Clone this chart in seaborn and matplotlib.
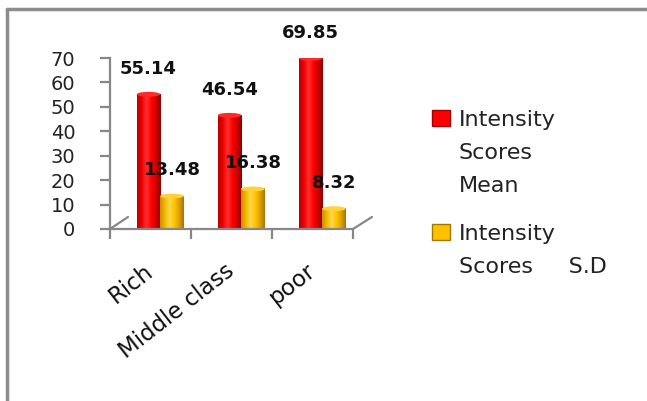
import matplotlib
matplotlib.use("Agg")
import matplotlib.pyplot as plt
import matplotlib.transforms as mtransforms
import seaborn as sns
import pandas as pd
import numpy as np
from matplotlib.patches import Patch, Ellipse
from matplotlib.lines import Line2D
from matplotlib.colors import LinearSegmentedColormap

# ---- data ----
categories = ["Rich", "Middle class", "poor"]
series = ["Intensity Scores Mean", "Intensity Scores S.D"]
mean_values = [55.14, 46.54, 69.85]
sd_values = [13.48, 16.38, 8.32]
y_ticks = [0, 10, 20, 30, 40, 50, 60, 70]
legend_labels = ["Intensity\nScores\nMean", "Intensity\nScores     S.D"]

df = pd.DataFrame({
    "category": categories * 2,
    "series": [series[0]] * len(categories) + [series[1]] * len(categories),
    "value": mean_values + sd_values,
})

sns.set_theme(style="white")
plt.rcParams['font.family'] = ['DejaVu Sans']

AXIS_GRAY = "#878787"
RED = "#FF0000"
GOLD = "#FFC000"
fig = plt.figure(figsize=(6.47, 4.01), dpi=100)
ax = fig.add_axes([110 / 647, 172 / 401, 243 / 647, 171 / 401])

palette = {series[0]: RED, series[1]: GOLD}
sns.barplot(data=df, x="category", y="value", hue="series", order=categories,
            hue_order=series, palette=palette, width=0.58, saturation=1,
            ax=ax, legend=False, linewidth=0)

# 3D-like depth offset of the bars
for p in ax.patches:
    p.set_x(p.get_x() + 0.12)

ax.set_xlim(-0.5, len(categories) - 0.5)
ax.set_ylim(0, 70)

# cylinder shading derived from each bar's geometry
cmaps = {
    RED: LinearSegmentedColormap.from_list(
        "r", ["#B80000", "#F00000", "#FF3030", "#FF0000", "#D00000", "#8C0000"]),
    GOLD: LinearSegmentedColormap.from_list(
        "g", ["#C89000", "#F5B800", "#FFD84A", "#FFC400", "#E0A000", "#A87400"]),
}
tops = {RED: "#FF2A2A", GOLD: "#FFD23A"}
grad = np.linspace(0, 1, 64).reshape(1, -1)
cap_h = 2.0
for container, col in zip(ax.containers, [RED, GOLD]):
    for p in container:
        x0, y0, w, h = p.get_x(), p.get_y(), p.get_width(), p.get_height()
        ax.imshow(grad, extent=[x0, x0 + w, y0, y0 + h], aspect="auto",
                  cmap=cmaps[col], zorder=p.get_zorder() + 0.1,
                  interpolation="bilinear")
        ax.add_patch(Ellipse((x0 + w / 2, y0 + h), w, cap_h,
                             facecolor=tops[col], edgecolor="none",
                             zorder=p.get_zorder() + 0.2))
ax.set_xlim(-0.5, len(categories) - 0.5)
ax.set_ylim(0, 70)
ax.set_aspect("auto")
ax.set_yticks(y_ticks)
ax.set_xlabel("")
ax.set_ylabel("")

for s in ["top", "right"]:
    ax.spines[s].set_visible(False)
for s in ["left", "bottom"]:
    ax.spines[s].set_color(AXIS_GRAY)
    ax.spines[s].set_linewidth(1.6)
    ax.spines[s].set_zorder(5)

ax.tick_params(axis="y", left=True, length=7, width=1.6, color=AXIS_GRAY,
               pad=18, labelsize=14, labelcolor="#222222")
ax.set_xticks(range(len(categories)))
ax.set_xticklabels(categories)
ax.set_xticks([i - 0.5 for i in range(len(categories) + 1)], minor=True)
ax.tick_params(axis="x", which="minor", bottom=True, length=7, width=1.6,
               color=AXIS_GRAY)
ax.tick_params(axis="x", which="major", bottom=True, length=0, pad=32,
               labelsize=16.5, labelcolor="#111111")
shift = mtransforms.ScaledTranslation(4 / 100, 0, fig.dpi_scale_trans)
for lbl in ax.get_xticklabels():
    lbl.set_rotation(38)
    lbl.set_ha("right")
    lbl.set_va("baseline")
    lbl.set_rotation_mode("anchor")
    lbl.set_transform(lbl.get_transform() + shift)

# floor depth lines
ax.plot([0, 18 / 243], [0, 12 / 171], transform=ax.transAxes, color=AXIS_GRAY,
        lw=1.6, clip_on=False)
ax.plot([1, 1 + 19 / 243], [0, 12 / 171], transform=ax.transAxes, color=AXIS_GRAY,
        lw=1.6, clip_on=False)

for c in ax.containers:
    ax.bar_label(c, fmt="%.2f", padding=12, fontsize=13, fontweight="bold",
                 color="#111111", zorder=6)

handles = [Patch(facecolor=RED, edgecolor="#A00000", lw=1),
           Patch(facecolor=GOLD, edgecolor="#A07800", lw=1)]
leg = fig.legend(handles, legend_labels, loc="upper left",
                 bbox_to_anchor=(432 / 647, 1 - 110 / 401), frameon=False,
                 fontsize=16, handlelength=0.8, handleheight=0.7,
                 handletextpad=0.4, labelspacing=1.3, borderpad=0,
                 borderaxespad=0)
for t in leg.get_texts():
    t.set_color("#222222")
    t.set_linespacing(1.8)
# align each legend marker with the first line of its label
for column in leg._legend_handle_box.get_children():
    for item in column.get_children():
        item.align = "top"

# chart border (top and left edges visible)
fig.add_artist(Line2D([7 / 647, 1], [1 - 9 / 401, 1 - 9 / 401],
                      transform=fig.transFigure, color="#8c8c8c", lw=2.5))
fig.add_artist(Line2D([7 / 647, 7 / 647], [0, 1 - 9 / 401],
                      transform=fig.transFigure, color="#8c8c8c", lw=2.5))

fig.savefig("out.png", dpi=100)
